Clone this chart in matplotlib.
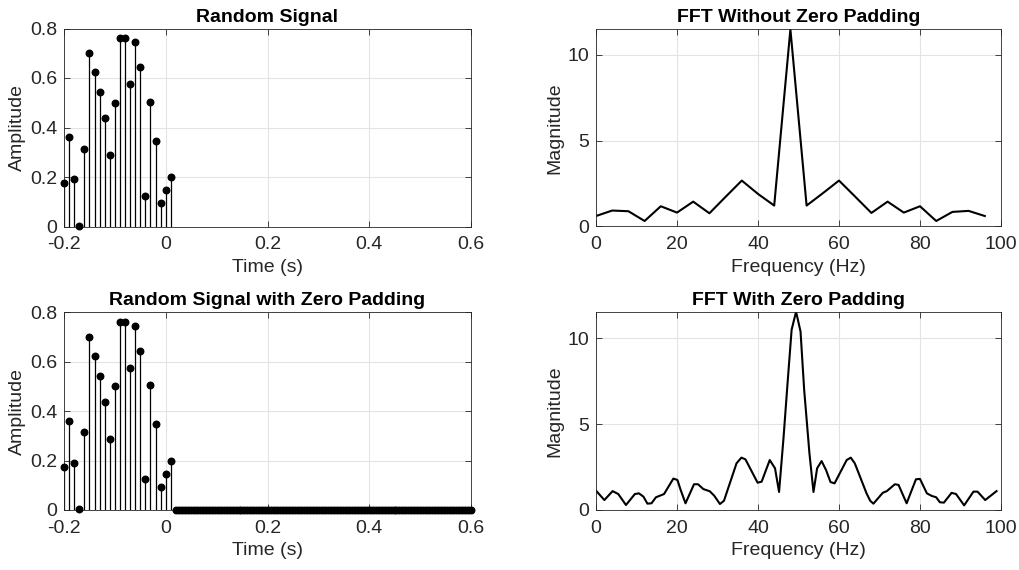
import numpy as np
import matplotlib
matplotlib.use("Agg")
from matplotlib import pyplot as plt

plt.rcParams['font.family'] = ['Liberation Sans', 'DejaVu Sans']

# sampled signal (dt = 0.01 s)
sig_t = np.arange(22) * 0.01 - 0.2
sig_vals = [0.176, 0.360, 0.190, 0.003, 0.315, 0.699, 0.625, 0.543, 0.439, 0.288, 0.501,
            0.762, 0.762, 0.575, 0.746, 0.645, 0.124, 0.505, 0.347, 0.093, 0.147, 0.198]

# zero padding samples
pad_t = np.linspace(0.02, 0.60, 100)
pad_vals = np.zeros(100)

# FFT without zero padding
fft_f = np.arange(25) * 4
fft_mag = [0.60, 0.92, 0.88, 0.31, 1.17, 0.80, 1.44, 0.76, 1.72, 2.67, 1.89, 1.21, 11.5,
           1.21, 1.93, 2.67, 1.73, 0.78, 1.44, 0.80, 1.17, 0.31, 0.84, 0.90, 0.60]

# FFT with zero padding
zp_f = [0.0, 2.06, 4.1, 5.5, 7.4, 9.6, 10.6, 11.7, 12.7, 13.7, 14.8, 16.8, 19.1, 20.1, 20.9,
        22.1, 24.2, 25.2, 26.5, 28.1, 29.2, 30.6, 31.6, 34.7, 35.9, 36.9, 39.9, 40.9, 42.9,
        44.2, 45.2, 46.3, 47.3, 48.3, 49.4, 50.5, 51.4, 52.7, 53.7, 54.6, 55.7, 56.8, 57.9,
        58.9, 61.9, 62.9, 63.9, 66.8, 67.7, 68.5, 70.8, 71.8, 73.8, 74.7, 76.7, 79.0, 80.0,
        81.7, 82.9, 84.0, 84.9, 85.9, 87.8, 88.9, 90.9, 93.2, 94.2, 96.1, 98.9]
zp_mag = [1.13, 0.58, 1.10, 0.93, 0.29, 0.93, 0.97, 0.78, 0.37, 0.39, 0.74, 0.93, 1.83, 1.75,
          1.17, 0.39, 1.50, 1.50, 1.22, 1.09, 0.83, 0.35, 0.54, 2.72, 3.05, 2.95, 1.59, 1.65,
          2.91, 2.43, 1.05, 4.2, 7.4, 10.5, 11.55, 10.4, 7.0, 3.3, 1.05, 2.43, 2.85, 2.33,
          1.63, 1.55, 2.91, 3.05, 2.72, 0.97, 0.54, 0.37, 1.00, 1.10, 1.50, 1.46, 0.39, 1.79,
          1.81, 0.97, 0.82, 0.74, 0.45, 0.43, 1.00, 0.93, 0.27, 1.07, 1.07, 0.58, 1.10]

W, H = 1019, 570
fig = plt.figure(figsize=(W / 100, H / 100), dpi=100)


def px_axes(left, top, right, bottom):
    return fig.add_axes([left / W, 1 - bottom / H, (right - left) / W, (bottom - top) / H])


def matlab_style(ax, title, xlabel, ylabel):
    ax.set_title(title, fontsize=14, fontweight='bold', pad=5)
    ax.set_xlabel(xlabel, fontsize=14, color='#262626', labelpad=4)
    ax.set_ylabel(ylabel, fontsize=14, color='#262626', labelpad=3)
    ax.grid(True, color='#e3e3e3', linewidth=0.8)
    ax.set_axisbelow(True)
    ax.tick_params(direction='in', top=True, right=True, labelsize=14,
                   colors='#262626', length=4, width=0.6)
    ax.tick_params(axis='x', pad=7)
    ax.tick_params(axis='y', pad=5)
    for sp in ax.spines.values():
        sp.set_color('#262626')
        sp.set_linewidth(0.6)


def draw_stems(ax, t, v):
    ax.vlines(t, 0, v, color='black', linewidth=0.9)
    ax.plot(t, v, 'o', color='black', markersize=4.7, clip_on=False, zorder=3)


ax1 = px_axes(64, 28.5, 471, 226.5)
draw_stems(ax1, sig_t, sig_vals)
ax1.set_xlim(-0.2, 0.6)
ax1.set_ylim(0, 0.8)
ax1.set_xticks([-0.2, 0, 0.2, 0.4, 0.6])
ax1.set_xticklabels(['-0.2', '0', '0.2', '0.4', '0.6'])
ax1.set_yticks([0, 0.2, 0.4, 0.6, 0.8])
ax1.set_yticklabels(['0', '0.2', '0.4', '0.6', '0.8'])
matlab_style(ax1, 'Random Signal', 'Time (s)', 'Amplitude')

ax2 = px_axes(596, 29.3, 1001, 226.3)
ax2.plot(fft_f, fft_mag, color='black', linewidth=1.5)
ax2.set_xlim(0, 100)
ax2.set_ylim(0, 11.5)
ax2.set_yticks([0, 5, 10])
matlab_style(ax2, 'FFT Without Zero Padding', 'Frequency (Hz)', 'Magnitude')

ax3 = px_axes(64, 312.3, 471, 510)
draw_stems(ax3, sig_t, sig_vals)
ax3.plot(pad_t, pad_vals, 'o', color='black', markersize=4.7, clip_on=False, zorder=3)
ax3.set_xlim(-0.2, 0.6)
ax3.set_ylim(0, 0.8)
ax3.set_xticks([-0.2, 0, 0.2, 0.4, 0.6])
ax3.set_xticklabels(['-0.2', '0', '0.2', '0.4', '0.6'])
ax3.set_yticks([0, 0.2, 0.4, 0.6, 0.8])
ax3.set_yticklabels(['0', '0.2', '0.4', '0.6', '0.8'])
matlab_style(ax3, 'Random Signal with Zero Padding', 'Time (s)', 'Amplitude')

ax4 = px_axes(596, 311.7, 1001, 510)
ax4.plot(zp_f, zp_mag, color='black', linewidth=1.5)
ax4.set_xlim(0, 100)
ax4.set_ylim(0, 11.55)
ax4.set_yticks([0, 5, 10])
matlab_style(ax4, 'FFT With Zero Padding', 'Frequency (Hz)', 'Magnitude')

fig.savefig('out.png', dpi=100, facecolor='white')
